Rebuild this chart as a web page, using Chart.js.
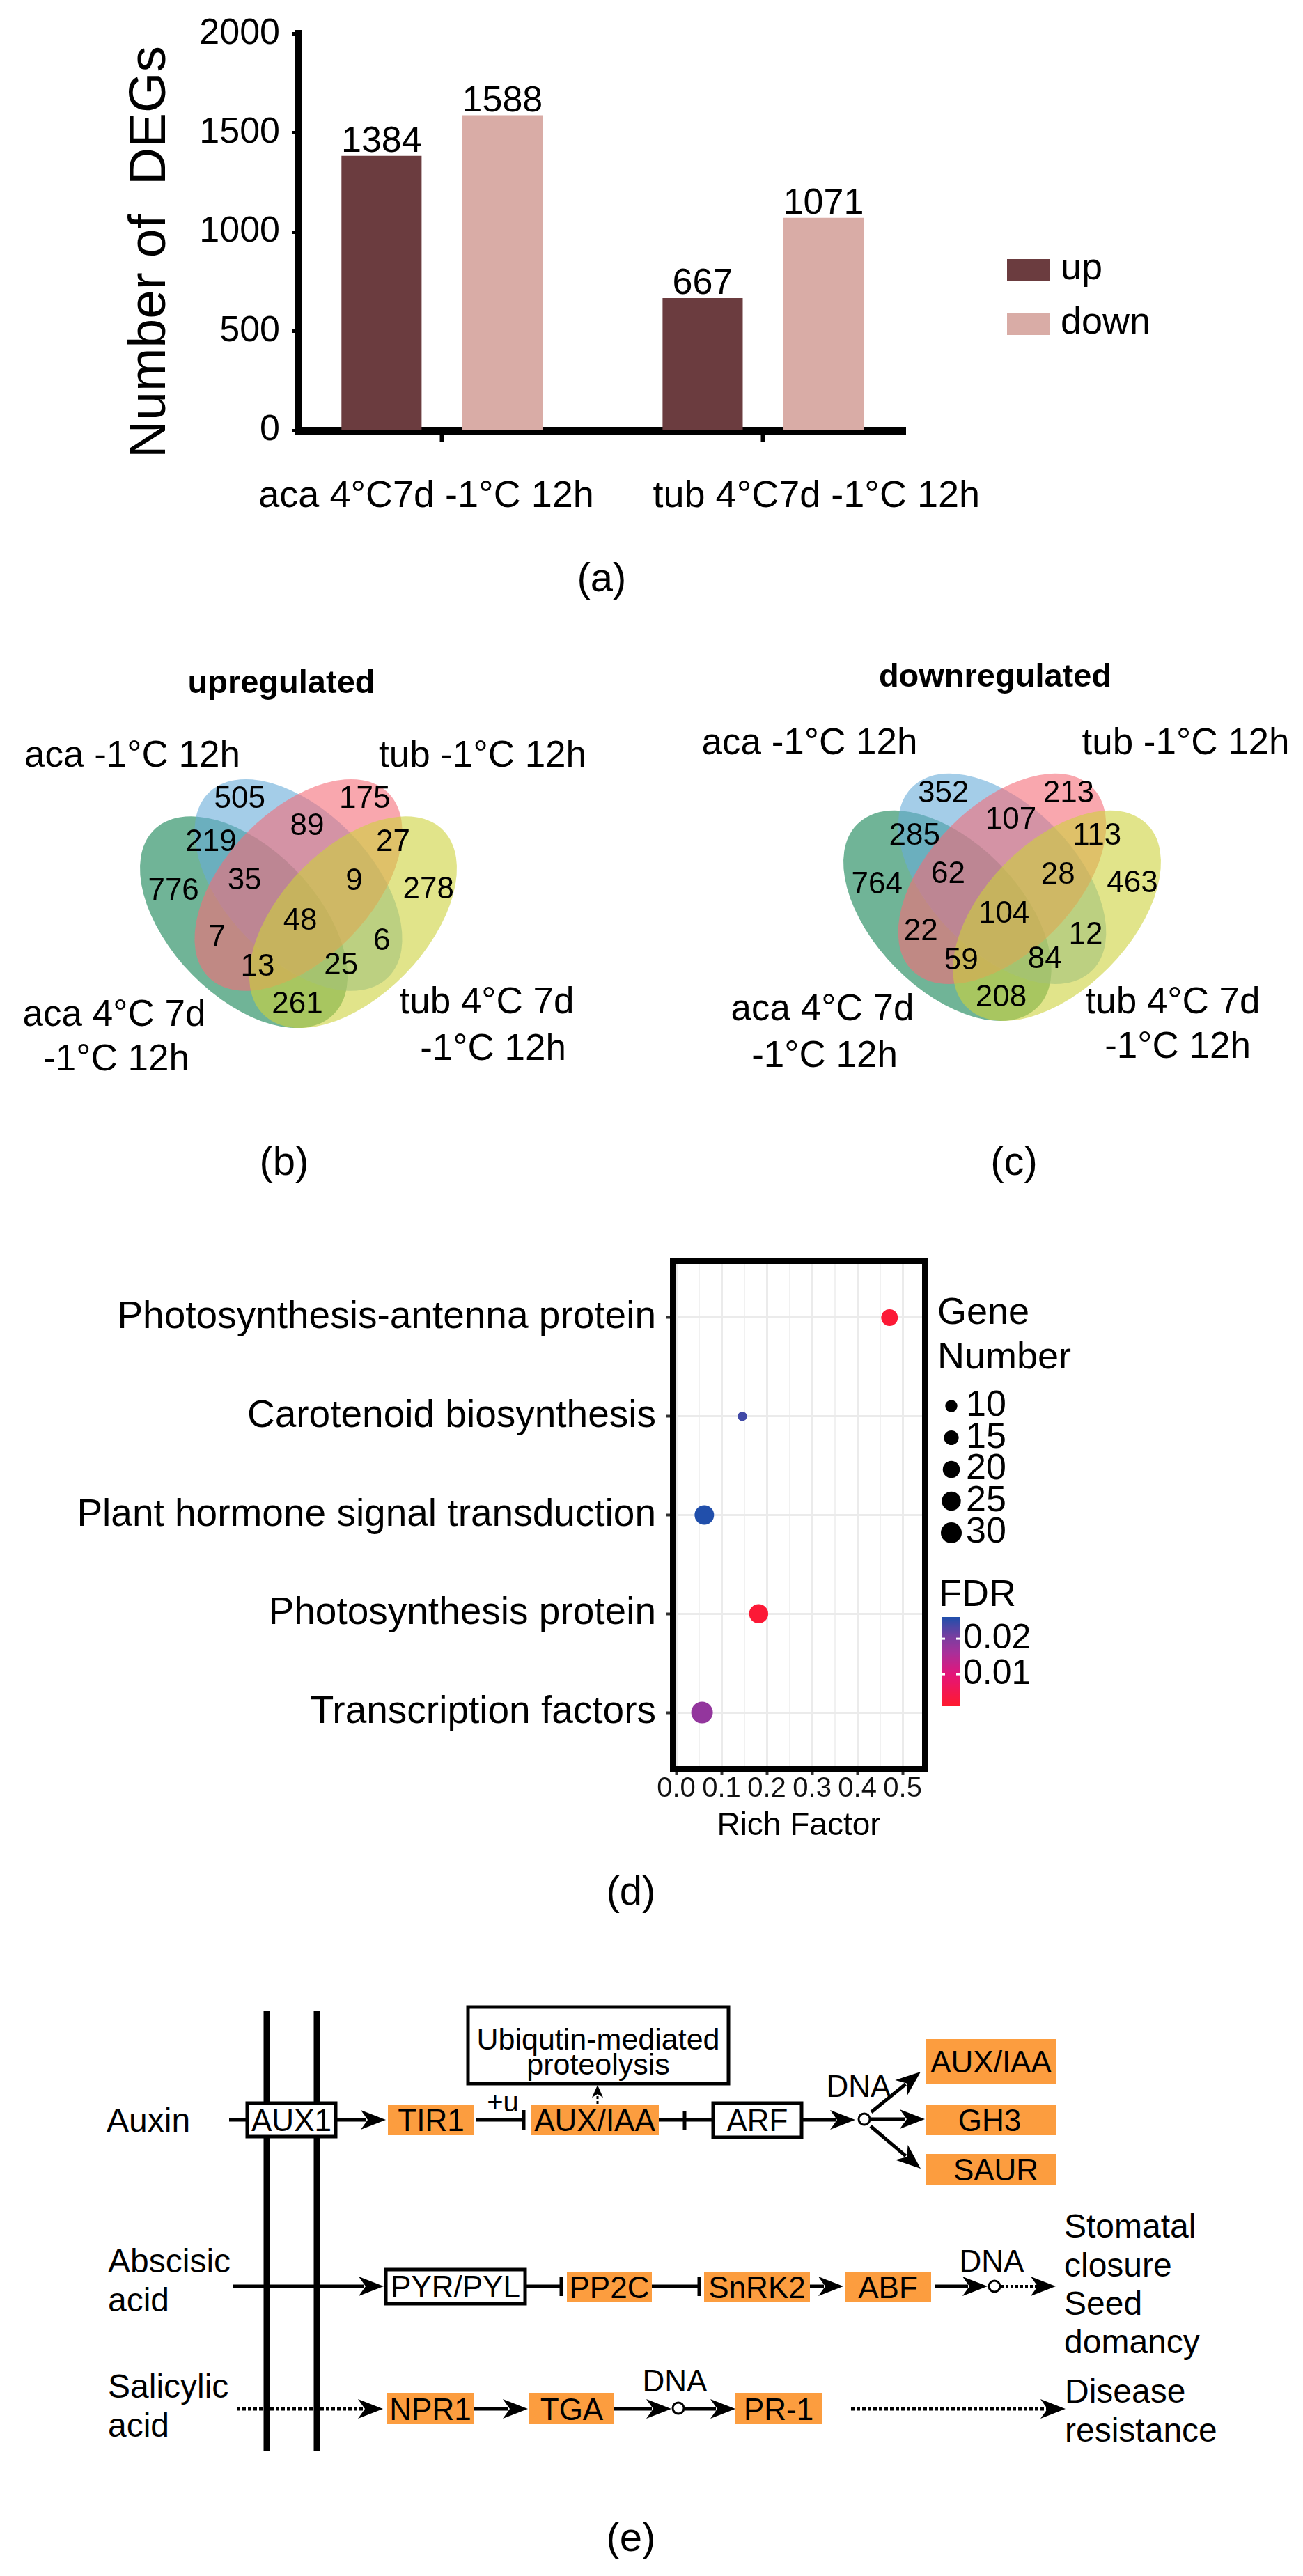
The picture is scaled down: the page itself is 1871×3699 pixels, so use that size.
<!DOCTYPE html>
<html>
<head>
<meta charset="utf-8">
<title>DEG figure</title>
<script src="https://cdn.jsdelivr.net/npm/chart.js"></script>
<style>
  html, body { margin:0; padding:0; background:#ffffff; }
  body { width:1871px; height:3699px; position:relative; overflow:hidden; }
  #base { position:absolute; left:0; top:0; font-family:"Liberation Sans", Arial, Helvetica, sans-serif; }
  canvas { position:absolute; }
</style>
</head>
<body>
<svg id="base" width="1871" height="3699" viewBox="0 0 1871 3699" xmlns="http://www.w3.org/2000/svg"></svg>
<canvas id="chartA" width="1871" height="780" style="left:0;top:0;width:1871px;height:780px"></canvas>
<canvas id="chartB" width="935" height="700" style="left:0;top:940px;width:935px;height:700px"></canvas>
<canvas id="chartC" width="936" height="700" style="left:935px;top:940px;width:936px;height:700px"></canvas>
<canvas id="chartD" width="1871" height="950" style="left:0;top:1750px;width:1871px;height:950px"></canvas>
<script>
// ================= DATA =================
// (a) number of DEGs
const barCategories = ['aca 4°C7d -1°C 12h', 'tub 4°C7d -1°C 12h'];
const barSeries = ['up', 'down'];
const upDEGs = [1384, 667];
const downDEGs = [1588, 1071];
const degTicks = [0, 500, 1000, 1500, 2000];
const degAxisTitle = 'Number of  DEGs';

// (b)(c) Venn diagrams: sets B, P, G, Y
const vennSetNames = ['aca -1°C 12h', 'tub -1°C 12h', 'aca 4°C 7d\n-1°C 12h', 'tub 4°C 7d\n-1°C 12h'];
const vennRegionKeys = ['B', 'P', 'BP', 'BG', 'PY', 'G', 'BPG', 'BPY', 'Y', 'BPGY', 'PG', 'BY', 'PGY', 'BGY', 'GY'];
const upregulatedCounts = [505, 175, 89, 219, 27, 776, 35, 9, 278, 48, 7, 6, 13, 25, 261];
const downregulatedCounts = [352, 213, 107, 285, 113, 764, 62, 28, 463, 104, 22, 12, 59, 84, 208];

// (d) KEGG enrichment
const keggPathways = ['Photosynthesis-antenna protein', 'Carotenoid biosynthesis', 'Plant hormone signal transduction', 'Photosynthesis protein', 'Transcription factors'];
const richFactor = [0.471, 0.146, 0.062, 0.182, 0.057];
const geneNumber = [19, 6, 26, 25, 32];
const fdrValues = [0.002, 0.024, 0.026, 0.002, 0.018];
const geneNumberLegend = [10, 15, 20, 25, 30];
const fdrLegendTicks = [0.02, 0.01];
const richTicks = [0.0, 0.1, 0.2, 0.3, 0.4, 0.5];

// ================= STYLE / LAYOUT =================
const FONT = '"Liberation Sans", Arial, Helvetica, sans-serif';
Chart.defaults.font.family = FONT;
Chart.defaults.color = '#000';
const UP_COLOR = '#6b3c3f', DOWN_COLOR = '#d9aca6';

// ---------- (a) ----------
const A_X = { min: -0.446, max: 1.443, labelShift: [-0.049, 0.166] };
const A_TITLE = { x: 216, y: 362, size: 75 };

const valueLabels = {
  id: 'valueLabels',
  afterDatasetsDraw(chart) {
    const ctx = chart.ctx;
    ctx.save();
    ctx.font = `52px ${FONT}`;
    ctx.fillStyle = '#000';
    ctx.textAlign = 'center';
    ctx.textBaseline = 'alphabetic';
    chart.data.datasets.forEach((ds, di) => {
      chart.getDatasetMeta(di).data.forEach((bar, i) => {
        ctx.fillText(String(ds.data[i].y), bar.x, bar.y - 6);
      });
    });
    ctx.restore();
  }
};
const barLegend = {
  id: 'barLegend',
  afterDraw(chart) {
    const ctx = chart.ctx;
    ctx.save();
    ctx.font = `54px ${FONT}`;
    ctx.textBaseline = 'middle';
    ctx.textAlign = 'left';
    chart.data.datasets.forEach((ds, i) => {
      const y = 372 + i * 78;
      ctx.fillStyle = ds.backgroundColor;
      ctx.fillRect(1446, y, 62, 31);
      ctx.fillStyle = '#000';
      ctx.fillText(ds.label, 1523, y + 14);
    });
    // rotated y-axis title
    ctx.translate(A_TITLE.x, A_TITLE.y);
    ctx.rotate(-Math.PI / 2);
    ctx.textAlign = 'center';
    ctx.font = `${A_TITLE.size}px ${FONT}`;
    ctx.fillText(degAxisTitle, 0, 0);
    ctx.restore();
  }
};

new Chart(document.getElementById('chartA'), {
  type: 'bar',
  data: {
    datasets: [
      { label: barSeries[0], data: upDEGs.map((v, i) => ({ x: i, y: v })), backgroundColor: UP_COLOR,
        categoryPercentage: 0.753, barPercentage: 0.663, xAxisID: 'x', yAxisID: 'y' },
      { label: barSeries[1], data: downDEGs.map((v, i) => ({ x: i, y: v })), backgroundColor: DOWN_COLOR,
        categoryPercentage: 0.753, barPercentage: 0.663, xAxisID: 'x', yAxisID: 'y' }
    ]
  },
  options: {
    responsive: false, animation: false, devicePixelRatio: 1, events: [],
    layout: { padding: { left: 150, top: 38, right: 571, bottom: 35 } },
    plugins: { legend: { display: false }, tooltip: { enabled: false } },
    scales: {
      x: {
        type: 'linear', min: A_X.min, max: A_X.max, offset: false, weight: 0, z: 1,
        afterBuildTicks: s => { s.ticks = barCategories.map((_, i) => ({ value: i })); },
        afterFit: s => { s.height = 17; },
        grid: { display: true, offset: false, drawOnChartArea: false, drawTicks: true, tickLength: 17, tickWidth: 6, tickColor: '#000' },
        border: { display: true, width: 11, color: '#000' },
        ticks: { display: false }
      },
      xl: {
        type: 'linear', axis: 'x', position: 'bottom', min: A_X.min, max: A_X.max, offset: false, weight: 1,
        afterBuildTicks: s => { s.ticks = barCategories.map((_, i) => ({ value: i + A_X.labelShift[i] })); },
        afterFit: s => { s.height = 110; },
        grid: { display: false }, border: { display: false },
        ticks: { callback: (v, i) => barCategories[i], font: { size: 54 }, color: '#000', padding: 38, maxRotation: 0, autoSkip: false }
      },
      y: {
        min: 0, max: 2000, z: 1,
        afterBuildTicks: s => { s.ticks = degTicks.map(v => ({ value: v })); },
        afterFit: s => { s.width = 279; },
        grid: { drawOnChartArea: false, drawTicks: true, tickLength: 10, tickWidth: 5, tickColor: '#000' },
        border: { display: true, width: 10, color: '#000' },
        ticks: { callback: v => String(v), font: { size: 52 }, color: '#000', padding: 17 }
      }
    }
  },
  plugins: [valueLabels, barLegend]
});

// ---------- (b)(c) Venn ----------
const VENN_A = 0.35, VENN_B = 0.2;
const VENN_ELLIPSES = [
  { key: 'G', cx: 0.35, cy: 0.47, rot: 135, color: 'rgba(17,130,82,0.6)' },
  { key: 'B', cx: 0.50, cy: 0.57, rot: 135, color: 'rgba(103,172,217,0.6)' },
  { key: 'P', cx: 0.50, cy: 0.57, rot: 45,  color: 'rgba(245,108,120,0.6)' },
  { key: 'Y', cx: 0.65, cy: 0.47, rot: 45,  color: 'rgba(205,210,60,0.6)' }
];
const REGION_POS = {
  B: [0.339, 0.80], P: [0.682, 0.80], BP: [0.524, 0.728], BG: [0.26, 0.685], PY: [0.76, 0.685],
  G: [0.157, 0.554], BPG: [0.352, 0.581], BPY: [0.653, 0.579], Y: [0.857, 0.556], BPGY: [0.505, 0.473],
  PG: [0.277, 0.427], BY: [0.729, 0.418], PGY: [0.388, 0.348], BGY: [0.617, 0.352], GY: [0.497, 0.248]
};

const vennPlugin = {
  id: 'venn',
  beforeDatasetsDraw(chart) {
    const { ctx, scales: { x, y } } = chart;
    const x0 = x.getPixelForValue(0), y0 = y.getPixelForValue(0);
    const sx = x.getPixelForValue(1) - x0, sy = y0 - y.getPixelForValue(1);
    VENN_ELLIPSES.forEach(e => {
      ctx.save();
      ctx.translate(x0, y0);
      ctx.scale(sx, -sy);
      ctx.beginPath();
      ctx.ellipse(e.cx, e.cy, VENN_A, VENN_B, e.rot * Math.PI / 180, 0, 2 * Math.PI);
      ctx.restore();
      ctx.fillStyle = e.color;
      ctx.fill();
    });
  },
  afterDatasetsDraw(chart, args, opts) {
    const ctx = chart.ctx;
    const meta = chart.getDatasetMeta(0);
    const ds = chart.data.datasets[0];
    ctx.save();
    ctx.fillStyle = '#000';
    ctx.textAlign = 'center';
    ctx.textBaseline = 'middle';
    ctx.font = `44px ${FONT}`;
    meta.data.forEach((pt, i) => ctx.fillText(String(ds.counts[i]), pt.x, pt.y));
    ctx.font = `bold 47px ${FONT}`;
    ctx.fillText(opts.title, opts.titlePos[0], opts.titlePos[1]);
    ctx.font = `53px ${FONT}`;
    vennSetNames.forEach((name, i) => {
      name.split('\n').forEach((ln, j) => ctx.fillText(ln, opts.setPos[i][j][0], opts.setPos[i][j][1]));
    });
    ctx.restore();
  }
};

function vennChart(id, counts, title, padding, titlePos, setPos) {
  return new Chart(document.getElementById(id), {
    type: 'scatter',
    data: { datasets: [{ data: vennRegionKeys.map(k => ({ x: REGION_POS[k][0], y: REGION_POS[k][1] })), counts: counts, pointRadius: 0 }] },
    options: {
      responsive: false, animation: false, devicePixelRatio: 1, events: [],
      layout: { padding: padding },
      scales: { x: { type: 'linear', min: 0, max: 1, display: false }, y: { type: 'linear', min: 0, max: 1, display: false } },
      plugins: { legend: { display: false }, tooltip: { enabled: false }, venn: { title, titlePos, setPos } }
    },
    plugins: [vennPlugin]
  });
}
vennChart('chartB', upregulatedCounts, 'upregulated',
  { left: 167, right: 245, top: 101.7, bottom: 65.3 }, [404, 42],
  [[[190, 146]], [[693, 146]], [[164, 518], [167, 582]], [[699, 500], [708, 567]]]);
vennChart('chartC', downregulatedCounts, 'downregulated',
  { left: 242, right: 170, top: 94, bottom: 76 }, [494, 33],
  [[[227.5, 128]], [[767.5, 128]], [[246, 510], [249, 577]], [[749, 500], [756, 564]]]);

// ---------- (d) bubble ----------
const GENE_R = n => 2.74 * Math.sqrt(n);
const FDR_SCALE = { min: 0.001, max: 0.0261 };
const FDR_STOPS = [[0, [255, 26, 46]], [0.36, [227, 21, 122]], [0.6, [168, 48, 154]], [0.78, [120, 62, 160]], [1, [31, 79, 171]]];
function fdrColor(f) {
  let t = (f - FDR_SCALE.min) / (FDR_SCALE.max - FDR_SCALE.min);
  t = Math.max(0, Math.min(1, t));
  for (let k = 1; k < FDR_STOPS.length; k++) {
    const [t0, c0] = FDR_STOPS[k - 1], [t1, c1] = FDR_STOPS[k];
    if (t <= t1) {
      const u = (t - t0) / (t1 - t0);
      return `rgb(${c0.map((c, j) => Math.round(c + (c1[j] - c) * u)).join(',')})`;
    }
  }
  return 'rgb(31,79,171)';
}
const D_LEG = { x: 1346, gene: 136, number: 200, dotX: 1366, dotY0: 269, dotStep: 45.5, labX: 1387,
  fdrTitle: 541, barX: 1352, barW: 26, barTop: 572, barBot: 700, fdrLabX: 1383 };
const fdrToY = v => D_LEG.barBot - (v - FDR_SCALE.min) / (FDR_SCALE.max - FDR_SCALE.min) * (D_LEG.barBot - D_LEG.barTop);
const fdrAtY = y => FDR_SCALE.min + (D_LEG.barBot - y) / (D_LEG.barBot - D_LEG.barTop) * (FDR_SCALE.max - FDR_SCALE.min);

const bubbleDecor = {
  id: 'bubbleDecor',
  afterDraw(chart) {
    const { ctx, chartArea: a } = chart;
    ctx.save();
    ctx.strokeStyle = '#000';
    ctx.lineWidth = 8;
    ctx.strokeRect(a.left, a.top, a.right - a.left, a.bottom - a.top);
    ctx.fillStyle = '#000';
    ctx.textAlign = 'left';
    ctx.textBaseline = 'middle';
    ctx.font = `54px ${FONT}`;
    ctx.fillText('Gene', D_LEG.x, D_LEG.gene);
    ctx.fillText('Number', D_LEG.x, D_LEG.number);
    ctx.font = `52px ${FONT}`;
    geneNumberLegend.forEach((n, i) => {
      const y = D_LEG.dotY0 + i * D_LEG.dotStep;
      ctx.beginPath();
      ctx.arc(D_LEG.dotX, y, GENE_R(n), 0, 2 * Math.PI);
      ctx.fill();
      ctx.fillText(String(n), D_LEG.labX, y);
    });
    ctx.font = `54px ${FONT}`;
    ctx.fillText('FDR', 1348, D_LEG.fdrTitle);
    for (let yy = D_LEG.barTop; yy < D_LEG.barBot; yy++) {
      ctx.fillStyle = fdrColor(fdrAtY(yy + 0.5));
      ctx.fillRect(D_LEG.barX, yy, D_LEG.barW, 1);
    }
    ctx.font = `50px ${FONT}`;
    fdrLegendTicks.forEach(v => {
      const y = fdrToY(v);
      ctx.fillStyle = '#fff';
      ctx.fillRect(D_LEG.barX, y - 1.5, 5, 3);
      ctx.fillRect(D_LEG.barX + D_LEG.barW - 5, y - 1.5, 5, 3);
      ctx.fillStyle = '#000';
      ctx.fillText(v.toFixed(2), D_LEG.fdrLabX, y);
    });
    ctx.restore();
  }
};

new Chart(document.getElementById('chartD'), {
  type: 'bubble',
  data: {
    datasets: [{
      data: keggPathways.map((p, i) => ({ x: richFactor[i], y: i, r: GENE_R(geneNumber[i]) })),
      backgroundColor: fdrValues.map(fdrColor),
      borderWidth: 0, hoverRadius: 0
    }]
  },
  options: {
    responsive: false, animation: false, devicePixelRatio: 1, events: [],
    layout: { padding: { left: 100, top: 61, right: 543, bottom: 50 } },
    plugins: { legend: { display: false }, tooltip: { enabled: false } },
    scales: {
      x: {
        type: 'linear', min: -0.0077, max: 0.549,
        afterBuildTicks: s => { const t = []; for (let k = 0; k <= 10; k++) t.push({ value: k * 0.05 }); s.ticks = t; },
        afterFit: s => { s.height = 110; },
        grid: {
          color: c => (c.index % 2 === 0 ? '#ebebeb' : '#f1f1f1'),
          lineWidth: c => (c.index % 2 === 0 ? 3 : 2),
          tickLength: 9, tickWidth: 4,
          tickColor: c => (c.index % 2 === 0 ? '#333' : 'rgba(0,0,0,0)')
        },
        border: { display: false },
        ticks: { callback: (v, i) => (i % 2 === 0 ? richTicks[i / 2].toFixed(1) : ''), autoSkip: false, maxRotation: 0,
          font: { size: 40, lineHeight: 1 }, color: '#111', padding: 0 },
        title: { display: true, text: 'Rich Factor', font: { size: 46 }, color: '#000', padding: { top: 0, bottom: 0 } }
      },
      y: {
        type: 'linear', reverse: true, min: -0.571, max: 4.571,
        afterBuildTicks: s => { s.ticks = keggPathways.map((_, i) => ({ value: i })); },
        afterFit: s => { s.width = 866; },
        grid: { color: '#ebebeb', lineWidth: 3, tickLength: 10, tickWidth: 4, tickColor: '#333' },
        border: { display: false },
        ticks: { callback: v => keggPathways[v], autoSkip: false, font: { size: 55 }, color: '#000', padding: 14 }
      }
    }
  },
  plugins: [bubbleDecor]
});

// ---------- panel labels and (e) pathway diagram (SVG) ----------
const svg = [];
function sText(x, y, str, size, anchor, dy) {
  svg.push(`<text x="${x}" y="${(y + (dy === undefined ? 0.36 : dy) * size).toFixed(1)}" font-size="${size}" text-anchor="${anchor || 'start'}" fill="#000">${str}</text>`);
}
function sRect(x1, y1, x2, y2, fill, sw) {
  svg.push(`<rect x="${x1}" y="${y1}" width="${x2 - x1}" height="${y2 - y1}" fill="${fill}"${sw ? ` stroke="#000" stroke-width="${sw}"` : ''}/>`);
}
function sLine(x1, y1, x2, y2, sw, dash) {
  svg.push(`<line x1="${x1}" y1="${y1}" x2="${x2}" y2="${y2}" stroke="#000" stroke-width="${sw}"${dash ? ` stroke-dasharray="${dash}"` : ''}/>`);
}
function sHead(tx, ty, ang, L = 36, W = 14, N = 10) {
  const c = Math.cos(ang), s = Math.sin(ang);
  const P = (dx, dy) => `${(tx + dx * c - dy * s).toFixed(1)},${(ty + dx * s + dy * c).toFixed(1)}`;
  svg.push(`<polygon points="${P(0, 0)} ${P(-L, -W)} ${P(-L + N, 0)} ${P(-L, W)}" fill="#000"/>`);
}
function sArrow(x1, y1, x2, y2, sw = 5, dash) {
  const ang = Math.atan2(y2 - y1, x2 - x1);
  const back = 28;
  sLine(x1, y1, x2 - back * Math.cos(ang), y2 - back * Math.sin(ang), sw, dash);
  sHead(x2, y2, ang);
}
function sInhibit(x1, y, x2, h = 28) { sLine(x1, y, x2, y, 5); sLine(x2, y - h / 2, x2, y + h / 2, 5); }
function sCircle(cx, cy, r) { svg.push(`<circle cx="${cx}" cy="${cy}" r="${r}" fill="#fff" stroke="#000" stroke-width="3"/>`); }

// panel letters
sText(864, 834, '(a)', 58, 'middle', 0.26);
sText(408, 1672, '(b)', 58, 'middle', 0.26);
sText(1456, 1672, '(c)', 58, 'middle', 0.26);
sText(906, 2720, '(d)', 58, 'middle', 0.26);
sText(906, 3648, '(e)', 58, 'middle', 0.26);

const ORANGE = '#fc9d3f';
// membrane
sLine(383, 2888, 383, 3520, 9);
sLine(455, 2888, 455, 3520, 9);
// Auxin row
sText(153, 3044, 'Auxin', 48);
sLine(329, 3044, 355, 3044, 5);
sRect(355, 3020, 482, 3068, '#fff', 5); sText(418.5, 3044, 'AUX1', 44, 'middle');
sArrow(482, 3044, 554, 3044);
sRect(557, 3022, 681, 3066, ORANGE); sText(619, 3044, 'TIR1', 44, 'middle');
sText(722, 3018, '+u', 40, 'middle');
sInhibit(683, 3044, 752);
sRect(762, 3022, 946, 3066, ORANGE); sText(854, 3044, 'AUX/IAA', 44, 'middle');
sLine(858, 3021, 858, 3008, 3, '4 3'); sHead(858, 2994, -Math.PI / 2, 18, 8, 5);
sRect(672, 2882, 1046, 2992, '#fff', 5);
sText(859, 2927, 'Ubiqutin-mediated', 43, 'middle');
sText(859, 2963, 'proteolysis', 43, 'middle');
sLine(946, 3044, 1024, 3044, 5); sLine(983, 3031, 983, 3058, 5);
sRect(1024, 3020, 1151, 3069, '#fff', 5); sText(1087.5, 3044, 'ARF', 44, 'middle');
sArrow(1151, 3044, 1228, 3044);
sCircle(1241, 3043, 8);
sText(1233, 2995, 'DNA', 44, 'middle');
sArrow(1251, 3033, 1322, 2975);
sArrow(1250, 3043, 1328, 3043);
sArrow(1250, 3053, 1322, 3114);
sRect(1330, 2928, 1516, 2993, ORANGE); sText(1423, 2960, 'AUX/IAA', 44, 'middle');
sRect(1330, 3022, 1516, 3066, ORANGE); sText(1421, 3044, 'GH3', 44, 'middle');
sRect(1330, 3093, 1516, 3137, ORANGE); sText(1430, 3115, 'SAUR', 44, 'middle');
// Abscisic acid row
sText(155, 3246, 'Abscisic', 48); sText(155, 3302, 'acid', 48);
sArrow(334, 3283, 551, 3283);
sRect(554, 3259, 754, 3308, '#fff', 5); sText(654, 3283, 'PYR/PYL', 44, 'middle');
sInhibit(756, 3283, 806);
sRect(814, 3262, 936, 3306, ORANGE); sText(875, 3284, 'PP2C', 44, 'middle');
sInhibit(936, 3283, 1004);
sRect(1011, 3262, 1163, 3306, ORANGE); sText(1087, 3284, 'SnRK2', 44, 'middle');
sArrow(1163, 3283, 1211, 3283);
sRect(1213, 3262, 1337, 3306, ORANGE); sText(1275, 3284, 'ABF', 44, 'middle');
sArrow(1342, 3283, 1418, 3283);
sCircle(1428, 3283, 8);
sLine(1437, 3283, 1490, 3283, 4, '4 3'); sHead(1516, 3283, 0);
sText(1424, 3246, 'DNA', 44, 'middle');
sText(1528, 3196, 'Stomatal', 48); sText(1528, 3252, 'closure', 48);
sText(1528, 3307, 'Seed', 48); sText(1528, 3362, 'domancy', 48);
// Salicylic acid row
sText(155, 3426, 'Salicylic', 48); sText(155, 3482, 'acid', 48);
sLine(340, 3459, 524, 3459, 5, '5 3'); sHead(550, 3459, 0);
sRect(556, 3436, 680, 3481, ORANGE); sText(618, 3459, 'NPR1', 44, 'middle');
sArrow(680, 3459, 758, 3459);
sRect(760, 3436, 882, 3481, ORANGE); sText(821, 3459, 'TGA', 44, 'middle');
sArrow(882, 3459, 964, 3459);
sCircle(974, 3458, 8);
sArrow(983, 3459, 1056, 3459);
sRect(1056, 3436, 1180, 3481, ORANGE); sText(1118, 3459, 'PR-1', 44, 'middle');
sText(969, 3418, 'DNA', 44, 'middle');
sLine(1222, 3459, 1504, 3459, 5, '5 3'); sHead(1530, 3459, 0);
sText(1529, 3433, 'Disease', 48); sText(1529, 3489, 'resistance', 48);

document.getElementById('base').innerHTML = svg.join('');
</script>
</body>
</html>
